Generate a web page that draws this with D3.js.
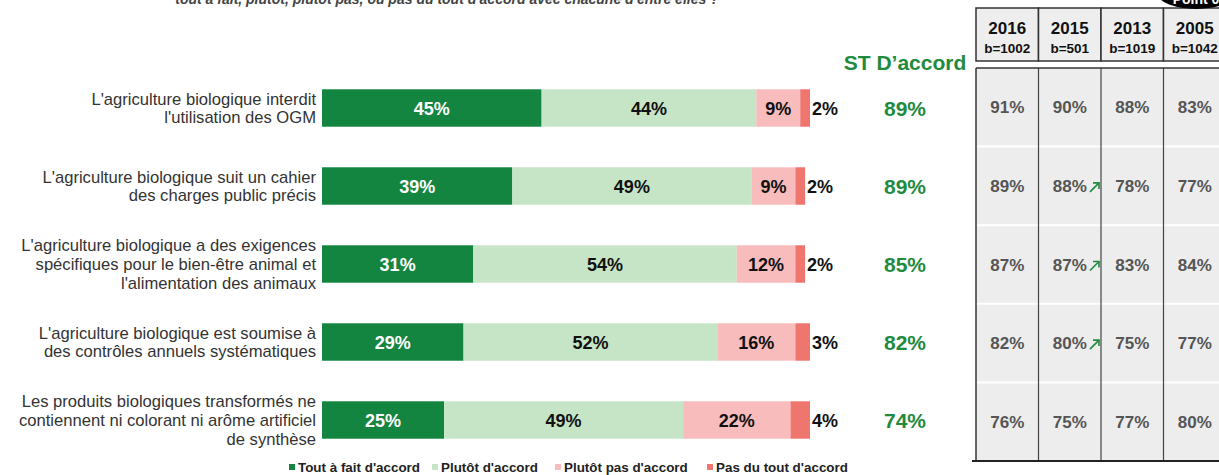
<!DOCTYPE html>
<html>
<head>
<meta charset="utf-8">
<script src="https://cdn.jsdelivr.net/npm/d3@7"></script>
<style>
  body { margin: 0; background: #fff; }
  svg { font-family: "Liberation Sans", Arial, sans-serif; display: block; }
</style>
</head>
<body>
<svg id="chart" width="1219" height="475"></svg>
<script>
// Data
const categories = [
  ["L'agriculture biologique interdit", "l'utilisation des OGM"],
  ["L'agriculture biologique suit un cahier", "des charges public précis"],
  ["L'agriculture biologique a des exigences", "spécifiques pour le bien-être animal et", "l'alimentation des animaux"],
  ["L'agriculture biologique est soumise à", "des contrôles annuels systématiques"],
  ["Les produits biologiques transformés ne", "contiennent ni colorant ni arôme artificiel", "de synthèse"]
];
const seriesNames = ["Tout à fait d'accord", "Plutôt d'accord", "Plutôt pas d'accord", "Pas du tout d'accord"];
const toutAFait = [45, 39, 31, 29, 25];
const plutot = [44, 49, 54, 52, 49];
const plutotPas = [9, 9, 12, 16, 22];
const pasDuTout = [2, 2, 2, 3, 4];
const stAccord = [89, 89, 85, 82, 74];

const years = ["2016", "2015", "2013", "2005"];
const bases = ["b=1002", "b=501", "b=1019", "b=1042"];
const v2016 = [91, 89, 87, 82, 76];
const v2015 = [90, 88, 87, 80, 75];
const v2013 = [88, 78, 83, 75, 77];
const v2005 = [83, 77, 84, 77, 80];
const up2015 = [false, true, true, true, false]; // significant rise marks

const colors = ["#138540", "#c6e4c6", "#f7bcbb", "#ef756f"];

const svg = d3.select("#chart");
const rows = d3.range(categories.length);

// Scales
const x = d3.scaleLinear().domain([0, 100]).range([322, 810]);
const y = d3.scaleBand().domain(rows).range([69, 459]).paddingInner(0.52).paddingOuter(0.26);
const rowY = d3.scaleBand().domain(rows).range([68, 461]);
const col = d3.scaleBand().domain(d3.range(years.length)).range([976, 1226]);

// Question text (cut at top)
svg.append("text")
  .attr("x", 447).attr("y", 4)
  .attr("text-anchor", "middle")
  .style("font-size", "14px").style("font-weight", "bold").style("font-style", "italic")
  .style("fill", "#444")
  .text("tout à fait, plutôt, plutôt pas, ou pas du tout d'accord avec chacune d'entre elles ?");

// Left labels
rows.forEach(i => {
  const lines = categories[i];
  const cy = y(i) + y.bandwidth() / 2;
  const lh = 18.6;
  const t = svg.append("text")
    .attr("text-anchor", "end")
    .style("font-size", "16.6px").style("fill", "#333");
  lines.forEach((ln, j) => {
    t.append("tspan")
      .attr("x", 316)
      .attr("y", cy + (j - (lines.length - 1) / 2) * lh + 6)
      .text(ln);
  });
});

// Stacked bars
const stackData = rows.map(i => ({ i, a: toutAFait[i], b: plutot[i], c: plutotPas[i], d: pasDuTout[i] }));
const stack = d3.stack().keys(["a", "b", "c", "d"]);
const layers = stack(stackData);

layers.forEach((layer, k) => {
  const g = svg.append("g");
  g.selectAll("rect")
    .data(layer)
    .enter()
    .append("rect")
    .attr("x", d => x(d[0]))
    .attr("y", d => y(d.data.i))
    .attr("width", d => x(d[1]) - x(d[0]))
    .attr("height", y.bandwidth())
    .attr("fill", colors[k]);

  g.selectAll("text")
    .data(layer)
    .enter()
    .append("text")
    .attr("x", d => k === 3 ? x(d[1]) + 2 : (x(d[0]) + x(d[1])) / 2)
    .attr("y", d => y(d.data.i) + y.bandwidth() / 2 + 6.5)
    .attr("text-anchor", k === 3 ? "start" : "middle")
    .style("font-size", "18px").style("font-weight", "bold")
    .style("fill", k === 0 ? "#fff" : "#111")
    .text(d => (d[1] - d[0]) + "%");
});

// ST D'accord
svg.append("text")
  .attr("x", 905).attr("y", 70)
  .attr("text-anchor", "middle")
  .style("font-size", "21px").style("font-weight", "bold").style("fill", "#1e8b3d")
  .text("ST D’accord");

svg.selectAll(".st")
  .data(stAccord)
  .enter()
  .append("text")
  .attr("x", 905)
  .attr("y", (d, i) => y(i) + y.bandwidth() / 2 + 7.5)
  .attr("text-anchor", "middle")
  .style("font-size", "21px").style("font-weight", "bold").style("fill", "#1e8b3d")
  .text(d => d + "%");

// Table header
const head = svg.append("g");
head.selectAll("rect")
  .data(years)
  .enter()
  .append("rect")
  .attr("x", (d, i) => col(i)).attr("y", 8)
  .attr("width", col.bandwidth()).attr("height", 53)
  .attr("fill", "#eeeeee").attr("stroke", "#333").attr("stroke-width", 1.5);
head.selectAll(".yr")
  .data(years)
  .enter()
  .append("text")
  .attr("x", (d, i) => col(i) + col.bandwidth() / 2)
  .attr("y", 34)
  .attr("text-anchor", "middle")
  .style("font-size", "17px").style("font-weight", "bold").style("fill", "#111")
  .text(d => d);
head.selectAll(".base")
  .data(bases)
  .enter()
  .append("text")
  .attr("x", (d, i) => col(i) + col.bandwidth() / 2)
  .attr("y", 53)
  .attr("text-anchor", "middle")
  .style("font-size", "13.5px").style("font-weight", "bold").style("fill", "#111")
  .text(d => d);

// Black badge at top right
svg.append("ellipse")
  .attr("cx", 1196).attr("cy", -6).attr("rx", 38).attr("ry", 15)
  .attr("fill", "#000");
svg.append("text")
  .attr("x", 1196).attr("y", 4)
  .attr("text-anchor", "middle")
  .style("font-size", "14px").style("font-weight", "bold").style("fill", "#fff")
  .text("Point 0");

// Table body
const body = svg.append("g");
body.append("rect")
  .attr("x", col.range()[0]).attr("y", rowY.range()[0])
  .attr("width", col.range()[1] - col.range()[0]).attr("height", rowY.range()[1] - rowY.range()[0])
  .attr("fill", "#ededed");
body.selectAll(".sep")
  .data(rows.slice(1))
  .enter()
  .append("line")
  .attr("x1", col.range()[0]).attr("x2", col.range()[1])
  .attr("y1", d => rowY(d)).attr("y2", d => rowY(d))
  .attr("stroke", "#fff").attr("stroke-width", 2);
body.selectAll(".vl")
  .data(d3.range(years.length))
  .enter()
  .append("line")
  .attr("x1", d => col(d)).attr("x2", d => col(d))
  .attr("y1", rowY.range()[0]).attr("y2", rowY.range()[1])
  .attr("stroke", d => d === 0 ? "#333" : "#444").attr("stroke-width", d => d === 0 ? 1.5 : 1.2);
body.append("line")
  .attr("x1", col.range()[0]).attr("x2", col.range()[1])
  .attr("y1", rowY.range()[0]).attr("y2", rowY.range()[0])
  .attr("stroke", "#333").attr("stroke-width", 1.5);
body.append("line")
  .attr("x1", col.range()[0] - 4).attr("x2", col.range()[1])
  .attr("y1", rowY.range()[1]).attr("y2", rowY.range()[1])
  .attr("stroke", "#222").attr("stroke-width", 2);

[v2016, v2015, v2013, v2005].forEach((vals, c) => {
  body.selectAll(".v" + c)
    .data(vals)
    .enter()
    .append("text")
    .attr("x", col(c) + col.bandwidth() / 2)
    .attr("y", (d, i) => rowY(i) + rowY.bandwidth() / 2 + 6)
    .attr("text-anchor", "middle")
    .style("font-size", "17px").style("font-weight", "bold").style("fill", "#555")
    .text(d => d + "%");
});

// Rise arrows in 2015 column
up2015.forEach((up, i) => {
  if (!up) return;
  const ax = col(1) + col.bandwidth() - 11;
  const ay = rowY(i) + rowY.bandwidth() / 2 + 6;
  body.append("line")
    .attr("x1", ax).attr("y1", ay).attr("x2", ax + 9).attr("y2", ay - 9)
    .attr("stroke", "#1e8b3d").attr("stroke-width", 1.6);
  body.append("path")
    .attr("d", `M${ax + 3},${ay - 9} L${ax + 9},${ay - 9} L${ax + 9},${ay - 3}`)
    .attr("fill", "none").attr("stroke", "#1e8b3d").attr("stroke-width", 1.6);
});

// Legend
const legendX = [289, 432, 555, 707];
const legend = svg.append("g");
seriesNames.forEach((name, k) => {
  legend.append("rect")
    .attr("x", legendX[k]).attr("y", 464)
    .attr("width", 6).attr("height", 6)
    .attr("fill", colors[k]);
  legend.append("text")
    .attr("x", legendX[k] + 9).attr("y", 472)
    .style("font-size", "13.4px").style("font-weight", "bold").style("fill", "#222")
    .text(name);
});
</script>
</body>
</html>
